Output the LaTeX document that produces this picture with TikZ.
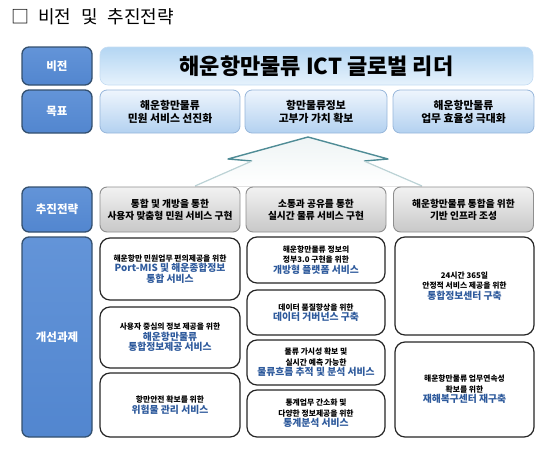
\documentclass[tikz,border=0pt]{standalone}
\usepackage{fontspec}
\setmainfont{Noto Sans CJK KR}
\usepackage{tikz}
\usetikzlibrary{calc}
\usepackage{xcolor}
\definecolor{headTop}{HTML}{6394D8}
\definecolor{headBot}{HTML}{5286CF}
\definecolor{headEdge}{HTML}{34506F}
\definecolor{visTop}{HTML}{B4D6F3}
\definecolor{visBot}{HTML}{E6F2FC}
\definecolor{visEdge}{HTML}{C5DCF2}
\definecolor{goalTop}{HTML}{EEF5FD}
\definecolor{goalBot}{HTML}{B3D1F0}
\definecolor{goalEdge}{HTML}{97B6DA}
\definecolor{stratTop}{HTML}{F2F2F2}
\definecolor{stratBot}{HTML}{C8C8C8}
\definecolor{stratEdge}{HTML}{8E8E8E}
\definecolor{taskBlue}{HTML}{2E5A9C}
\definecolor{arrowTeal}{HTML}{4F8C96}
\definecolor{arrowFade}{HTML}{BCD3D6}
\newcommand{\bluetxt}[1]{{\color{taskBlue}\fontsize{9.8}{11.5}\selectfont\bfseries #1}}
\newcommand{\titlefont}{\fontsize{18}{21}\selectfont\spaceskip=10pt\relax}

\begin{document}
\begin{tikzpicture}[x=1pt, y=-1pt,
  headbox/.style={draw=headEdge, line width=1.3pt, rounded corners=7pt,
    top color=headTop, bottom color=headBot, text=white,
    font=\fontsize{11.5}{13}\selectfont\bfseries,
    minimum width=70pt, inner sep=0pt},
  goalbox/.style={draw=goalEdge, line width=0.8pt, rounded corners=7pt,
    top color=goalTop, bottom color=goalBot, align=center,
    font=\fontsize{10.8}{13}\selectfont\bfseries, inner sep=0pt,
    minimum height=43pt},
  stratbox/.style={draw=stratEdge, line width=0.9pt, rounded corners=7pt,
    top color=stratTop, bottom color=stratBot, align=center,
    font=\fontsize{9.7}{12}\selectfont\bfseries, inner sep=0pt,
    minimum height=45pt},
  taskbox/.style={draw=black!85, line width=1.2pt, rounded corners=10pt,
    fill=white, align=center, inner sep=0pt,
    font=\fontsize{7.8}{10.5}\selectfont\bfseries}]
  \useasboundingbox (0,0) rectangle (550,453);
  % Title
  \node[anchor=west, inner sep=0pt, font=\titlefont]
        (title) at (11,17) {□\hspace{9pt}비전 및 추진전략};
  % Row headers
  \node[headbox, minimum height=38pt] (vision) at (57,66) {비전};
  \node[headbox, minimum height=43pt] (goal) at (57,111.5) {목표};
  \node[headbox, minimum height=45pt] (strategy) at (57,209.5) {추진전략};
  \node[headbox, minimum height=200pt] (tasks) at (57,337) {개선과제};
  % Vision
  \node[draw=visEdge, line width=0.6pt, rounded corners=8pt,
        top color=visTop, bottom color=visBot,
        minimum width=433pt, minimum height=38pt, inner sep=0pt,
        font=\fontsize{22}{24}\selectfont\bfseries]
        (leader) at (316.5,66) {해운항만물류 ICT 글로벌 리더};
  % Goals
  \node[goalbox, minimum width=140pt] (goalA) at (170,111.5)
        {해운항만물류\\민원 서비스 선진화};
  \node[goalbox, minimum width=142pt] (goalB) at (316,111.5)
        {항만물류정보\\고부가 가치 확보};
  \node[goalbox, minimum width=141pt] (goalC) at (463.5,111.5)
        {해운항만물류\\업무 효율성 극대화};
  % Arrow
  \coordinate (apex) at (308,137);
  \coordinate (rc) at (388,159);
  \coordinate (rn) at (364,161);
  \coordinate (rb) at (422,186);
  \coordinate (lb) at (195,186);
  \coordinate (ln) at (252,161);
  \coordinate (lc) at (228,159);
  \fill[top color=arrowFade!25!white, bottom color=white]
        (apex) -- (rc) -- (rn) -- (rb) -- (lb) -- (ln) -- (lc) -- cycle;
  \draw[arrowTeal, line width=1.4pt, line join=round]
        (ln) -- (lc) -- (apex) -- (rc) -- (rn);
  \draw[arrowFade, line width=1.2pt] (ln) -- (lb);
  \draw[arrowFade, line width=1.2pt] (rn) -- (rb);
  % Strategies
  \node[stratbox, minimum width=140pt] (stratA) at (170,209.5)
        {통합 및 개방을 통한\\사용자 맞춤형 민원 서비스 구현};
  \node[stratbox, minimum width=140pt] (stratB) at (316,209.5)
        {소통과 공유를 통한\\실시간 물류 서비스 구현};
  \node[stratbox, minimum width=140pt] (stratC) at (463.5,209.5)
        {해운항만물류 통합을 위한\\기반 인프라 조성};
  % Tasks, first column
  \node[taskbox, minimum width=140pt, minimum height=62pt] (portmis) at (170,269)
        {해운항만 민원업무 편의제공을 위한\\\bluetxt{Port-MIS 및 해운종합정보}\\\bluetxt{통합 서비스}};
  \node[taskbox, minimum width=140pt, minimum height=61pt] (infoserv) at (170,337.5)
        {사용자 중심의 정보 제공을 위한\\\bluetxt{해운항만물류}\\\bluetxt{통합정보제공 서비스}};
  \node[taskbox, minimum width=140pt, minimum height=64pt] (hazard) at (170,405)
        {항만안전 확보를 위한\\\bluetxt{위험물 관리 서비스}};
  % Tasks, second column
  \node[taskbox, minimum width=138pt, minimum height=46pt] (platform) at (316,260)
        {해운항만물류 정보의\\정부3.0 구현을 위한\\\bluetxt{개방형 플랫폼 서비스}};
  \node[taskbox, minimum width=138pt, minimum height=45pt] (govern) at (316,312.5)
        {데이터 품질향상을 위한\\\bluetxt{데이터 거버넌스 구축}};
  \node[taskbox, minimum width=138pt, minimum height=45pt] (tracking) at (316,362.5)
        {물류 가시성 확보 및\\실시간 예측 가능한\\\bluetxt{물류흐름 추적 및 분석 서비스}};
  \node[taskbox, minimum width=138pt, minimum height=47pt] (stats) at (316,413.5)
        {통계업무 간소화 및\\다양한 정보제공을 위한\\\bluetxt{통계분석 서비스}};
  % Tasks, third column
  \node[taskbox, minimum width=139pt, minimum height=98pt] (center) at (464.5,286)
        {24시간 365일\\안정적 서비스 제공을 위한\\\bluetxt{통합정보센터 구축}};
  \node[taskbox, minimum width=139pt, minimum height=95pt] (recovery) at (464.5,389.5)
        {해운항만물류 업무연속성\\확보를 위한\\\bluetxt{재해복구센터 재구축}};
\end{tikzpicture}
\end{document}
